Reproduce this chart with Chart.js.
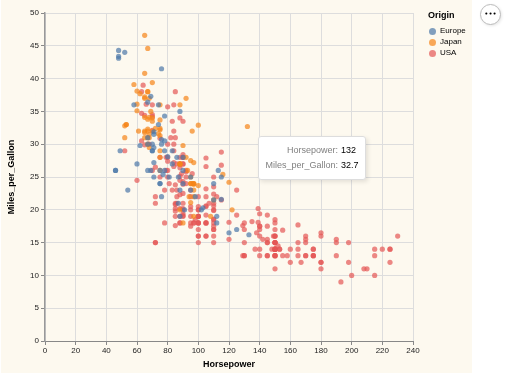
<!DOCTYPE html>
<html>
<head>
<meta charset="utf-8">
<script src="https://cdn.jsdelivr.net/npm/chart.js@4/dist/chart.umd.min.js"></script>
<style>
html,body{margin:0;padding:0;background:#fff;}
#wrap{position:relative;width:506px;height:383px;overflow:hidden;font-family:'Liberation Sans',Arial,sans-serif;}
#bg{position:absolute;left:1px;top:0;width:471px;height:373px;background:#fdf9ef;}
#c{position:absolute;left:0;top:0;}
#legend{position:absolute;left:0;top:0;}
.lt{position:absolute;left:428px;top:10px;font-weight:bold;font-size:9px;line-height:11px;color:#000;}
.li{position:absolute;left:440px;font-size:8px;line-height:10px;color:#000;}
.ls{position:absolute;width:7px;height:7px;border-radius:50%;}
#tip{position:absolute;left:258px;top:136px;width:108px;height:44px;background:#fff;border:1px solid #ddd;border-radius:3px;box-shadow:2px 2px 4px rgba(0,0,0,0.1);box-sizing:border-box;font-size:9px;}
#tip .k{position:absolute;right:27px;color:#808080;line-height:11px;white-space:nowrap;}
#tip .v{position:absolute;left:82px;color:#000;line-height:11px;white-space:nowrap;}
#btn{position:absolute;left:480px;top:4px;width:21px;height:21px;border-radius:50%;border:1px solid #bbb;background:#fff;box-shadow:1px 1px 3px rgba(0,0,0,0.1);box-sizing:border-box;font-size:7px;line-height:19px;text-align:center;color:#000;letter-spacing:0px;font-family:'DejaVu Sans',sans-serif;}
</style>
</head>
<body>
<div id="wrap">
  <div id="bg"></div>
  <canvas id="c" width="506" height="383"></canvas>
  <div id="legend"></div>
  <div id="tip"></div>
  <div id="btn">•••</div>
</div>
<script>
// ---- data (Horsepower, Miles_per_Gallon) by Origin ----
const origins = ["Europe", "Japan", "USA"];
const originColors = ["#4c78a8", "#f58518", "#e45756"];

const europeHP = [46,87,90,95,113,90,70,76,60,54,112,76,87,69,46,90,49,75,91,112,110,83,67,78,75,75,67,71,70,95,88,98,115,86,81,83,70,71,102,88,120,58,78,78,110,48,103,125,115,133,71,71,77,71,69,76,78,48,48,67,67,62,88,74,80,76,74,52];
const europeMPG = [26,25,24,25,26,28,30,30,27,23,18,22,21,26,26,26,29,24,20,19,24,29,26,26,24,26,31,25,29,23,23,22,25,28,25,27,29,29.5,20,19,16.5,36,29,30.5,21.5,43.1,20.3,17,21.6,16.2,31.5,31.9,25.4,27.2,37.3,41.5,34.3,44.3,43.4,36.4,30,29.8,35,33,28.1,30.7,36,44];

const japanHP = [95,88,88,95,65,69,95,97,92,97,88,88,94,90,122,67,65,52,61,97,93,75,96,97,53,53,70,75,108,68,70,75,67,97,110,52,70,60,95,97,95,97,68,65,65,60,65,90,75,92,75,65,65,67,67,132,100,72,58,60,67,65,62,68,75,75,100,74,116,120,68,68,88,75,70,67,67,67,96];
const japanMPG = [24,27,27,25,31,35,24,19,28,23,27,20,22,18,20,31,32,31,32,24,26,29,24,24,33,33,32,28,19,31.5,33.5,26,30,22,21.5,32.8,39.4,36.1,27.5,27.2,21.1,23.9,29.5,34.1,31.8,38.1,37.2,29.8,31.3,37,32.2,46.6,40.8,44.6,33.8,32.7,23.7,32.4,39.1,35.1,32.3,37,37.7,34.1,33.7,32.4,32.9,31.6,25.4,24.2,37,31,36,36,34,38,32,38,32];

const usaHP = [130,165,150,150,140,198,220,215,225,190,170,160,150,225,95,97,85,90,215,200,210,193,90,100,105,100,88,100,165,175,153,150,180,170,175,110,72,100,88,86,70,80,90,86,165,175,150,153,150,208,155,160,190,150,130,140,150,86,80,175,150,145,137,150,198,150,158,150,215,225,175,105,100,100,88,95,150,167,170,180,100,72,85,107,145,230,150,180,95,100,100,80,75,100,110,105,140,150,150,140,150,75,95,105,72,72,170,145,150,148,110,105,110,95,110,110,129,83,100,78,97,90,92,79,140,150,120,152,100,105,81,90,52,60,100,78,110,95,72,150,180,145,130,150,80,96,145,110,145,130,110,105,100,98,180,170,190,149,88,89,63,83,66,110,140,139,105,95,85,88,100,90,105,85,110,120,145,165,139,140,68,75,105,85,115,85,88,90,110,130,129,138,135,155,142,125,150,80,80,125,90,70,70,90,115,115,90,70,90,88,90,90,105,84,84,92,110,84,64,63,65,65,110,105,88,85,88,88,88,85,84,90,92,63,70,110,85,92,112,84,90,86,84,79,82];
const usaMPG = [18,15,18,16,17,15,14,14,14,15,15,14,15,14,22,18,21,21,10,10,11,9,28,19,16,17,19,18,14,14,14,14,12,13,13,18,22,19,18,23,26,25,20,21,13,14,15,14,17,11,13,12,13,15,13,13,14,22,28,13,14,13,14,15,12,13,13,14,13,12,13,18,16,18,18,23,11,12,13,12,18,21,19,21,15,16,15,11,20,19,15,26,25,16,16,18,16,13,14,14,14,28,19,18,15,15,16,15,16,14,17,16,15,18,21,20,13,23,20,23,18,19,25,26,17.5,16,15.5,14.5,22,22,24,22.5,29,24.5,20,18,18.5,17.5,26.5,13,16.5,13,13,13,30,25.5,17.5,17,15.5,15,17.5,20.5,19,18.5,16,15.5,15.5,16,24.5,25.5,30.5,33.5,36.1,19.9,19.4,20.2,19.2,20.5,20.2,25.1,20.5,19.4,20.6,20.8,18.6,18.1,19.2,17.7,18.1,17.5,30,30.9,23.2,23.8,21.5,19.8,22.3,20.2,20.6,17,17.6,16.5,18.2,16.9,15.5,19.2,18.5,35.7,27.4,23,23.9,34.2,34.5,28.4,28.8,26.8,33.5,32.1,28,26.4,24.3,19.1,27.9,27.2,26.6,25.8,23.5,30,39,34.7,34.4,29.9,22.4,26.6,20.2,17.6,28,27,34,31,29,27,24,38,36,25,38,26,22,36,27,27,32,28,31];

const xTicksMin = 0, xTicksMax = 240, xTickStep = 20;
const yTicksMin = 0, yTicksMax = 50, yTickStep = 5;
const xTitle = "Horsepower";
const yTitle = "Miles_per_Gallon";
const legendTitle = "Origin";
const tooltipKeys = ["Horsepower:", "Miles_per_Gallon:"];
const tooltipValues = ["132", "32.7"];

// ---- build ----
function zip(hp, mpg) { return hp.map((h, i) => ({ x: h, y: mpg[i] })); }
function alpha(hex, a) {
  const n = parseInt(hex.slice(1), 16);
  return `rgba(${n >> 16},${(n >> 8) & 255},${n & 255},${a})`;
}
const series = [zip(europeHP, europeMPG), zip(japanHP, japanMPG), zip(usaHP, usaMPG)];

const FONT = "'Liberation Sans', Arial, sans-serif";

new Chart(document.getElementById('c'), {
  type: 'scatter',
  data: {
    datasets: origins.map((o, i) => ({
      label: o,
      data: series[i],
      backgroundColor: alpha(originColors[i], 0.7),
      borderWidth: 0,
      pointRadius: 2.6,
      pointHoverRadius: 2.6,
      order: i === 2 ? 2 : 1
    }))
  },
  options: {
    responsive: false,
    animation: false,
    events: [],
    layout: { padding: { left: 0, right: 93, top: 13, bottom: 0 } },
    plugins: { legend: { display: false }, tooltip: { enabled: false } },
    scales: {
      x: {
        type: 'linear', min: xTicksMin, max: xTicksMax,
        afterFit: s => { s.height = 42; },
        ticks: { stepSize: xTickStep, padding: 1, color: '#222', font: { family: FONT, size: 8 }, maxRotation: 0 },
        grid: { color: '#ddd', tickColor: '#888', tickLength: 4 },
        border: { color: '#888', width: 1 },
        title: { display: true, text: xTitle, color: '#000', font: { family: FONT, size: 9, weight: 'bold' }, padding: { top: 0, bottom: 13 } }
      },
      y: {
        type: 'linear', min: yTicksMin, max: yTicksMax,
        afterFit: s => { s.width = 45; },
        ticks: { stepSize: yTickStep, padding: 2, color: '#222', font: { family: FONT, size: 8 } },
        grid: { color: '#ddd', tickColor: '#888', tickLength: 4 },
        border: { color: '#999', width: 1.5 },
        title: { display: true, text: yTitle, color: '#000', font: { family: FONT, size: 9, weight: 'bold' }, padding: { top: 6, bottom: 0 } }
      }
    }
  }
});

// ---- legend (HTML) ----
const lg = document.getElementById('legend');
const t = document.createElement('div'); t.className = 'lt'; t.textContent = legendTitle; lg.appendChild(t);
origins.forEach((o, i) => {
  const cy = 31 + i * 11;
  const s = document.createElement('div'); s.className = 'ls';
  s.style.left = (432 - 3.5) + 'px'; s.style.top = (cy - 3.5) + 'px';
  s.style.background = alpha(originColors[i], 0.7);
  lg.appendChild(s);
  const l = document.createElement('div'); l.className = 'li'; l.textContent = o;
  l.style.top = (cy - 5) + 'px';
  lg.appendChild(l);
});

// ---- tooltip (HTML) ----
const tip = document.getElementById('tip');
tooltipKeys.forEach((k, i) => {
  const top = 8 + i * 15;
  const ke = document.createElement('div'); ke.className = 'k'; ke.textContent = k; ke.style.top = top + 'px';
  const ve = document.createElement('div'); ve.className = 'v'; ve.textContent = tooltipValues[i]; ve.style.top = top + 'px';
  tip.appendChild(ke); tip.appendChild(ve);
});
</script>
</body>
</html>
